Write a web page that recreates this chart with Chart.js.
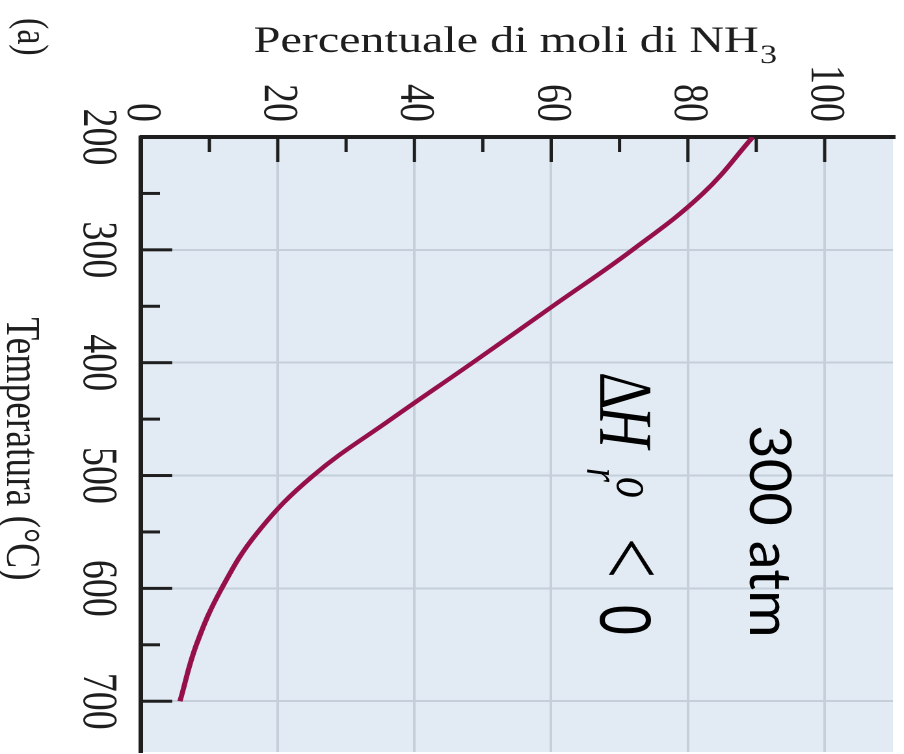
<!DOCTYPE html>
<html>
<head>
<meta charset="utf-8">
<script src="https://cdn.jsdelivr.net/npm/chart.js@4.4.1/dist/chart.umd.min.js"></script>
<style>
  html, body { margin: 0; padding: 0; background: #fff; overflow: hidden; }
  body { width: 904px; height: 754px; position: relative; }
  /* the figure is drawn upright, then turned a quarter clockwise and stretched like the scan */
  #wrap { position: absolute; left: 0; top: 0; width: 754px; height: 695px;
          transform-origin: 0 0; transform: translate(904px, 0) rotate(90deg) scaleY(1.3007); }
</style>
</head>
<body>
<div id="wrap"><canvas id="chart"></canvas></div>
<script>
// data
const temperature = [200, 250, 300, 350, 400, 450, 500, 550, 600, 650, 700];
const molePercent = [89.5, 82.2, 71.9, 60.2, 48.5, 36.6, 25.2, 17.1, 11.8, 8.1, 5.7];
const tempTicks = [200, 250, 300, 350, 400, 450, 500, 550, 600, 650, 700];
const percentTicks = [0, 10, 20, 30, 40, 50, 60, 70, 80, 90, 100];

const xTitle = 'Temperatura (°C)';
const yTitle = 'Percentuale di moli di NH';
const ySub = '3';
const pressureLabel = '300 atm';
const panelLabel = '(a)';

const STRETCH = 1.3007;
const ink = '#1e1e1e';
const serif = "'Liberation Serif', 'Times New Roman', serif";

const decor = {
  id: 'decor',
  beforeDraw(chart) {
    const {ctx, chartArea: a} = chart;
    ctx.save();
    ctx.fillStyle = '#e2ebf4';
    ctx.fillRect(a.left, a.top, a.right - a.left, a.bottom - a.top);
    ctx.restore();
  },
  afterDraw(chart) {
    const {ctx, chartArea: a, scales: {x, y}} = chart;
    ctx.save();
    ctx.strokeStyle = ink;

    // inward tick marks
    ctx.lineWidth = 3;
    tempTicks.forEach(t => {
      if (t === x.min) return;
      const px = x.getPixelForValue(t);
      const len = t % 100 === 0 ? 24 : 14.6;
      ctx.beginPath();
      ctx.moveTo(px, a.bottom);
      ctx.lineTo(px, a.bottom - len);
      ctx.stroke();
    });
    ctx.lineWidth = 2.5;
    percentTicks.forEach(p => {
      if (p === 0) return;
      const py = y.getPixelForValue(p);
      const len = p % 20 === 0 ? 25 : 15;
      ctx.beginPath();
      ctx.moveTo(a.left, py);
      ctx.lineTo(a.left + len, py);
      ctx.stroke();
    });

    // axis titles
    ctx.fillStyle = ink;
    ctx.textBaseline = 'alphabetic';
    ctx.textAlign = 'center';
    ctx.font = '37.5px ' + serif;
    ctx.fillText(xTitle, 449, chart.height - 5.4);

    ctx.save();
    ctx.translate(52, 298.8);
    ctx.rotate(-Math.PI / 2);
    ctx.textAlign = 'left';
    ctx.font = '37px ' + serif;
    const w1 = ctx.measureText(yTitle).width;
    ctx.font = '26px ' + serif;
    const w2 = ctx.measureText(ySub).width;
    const x0 = -(w1 + w2 + 1) / 2;
    ctx.font = '37px ' + serif;
    ctx.fillText(yTitle, x0, 0);
    ctx.font = '26px ' + serif;
    ctx.fillText(ySub, x0 + w1 + 1, 11);
    ctx.restore();

    // panel label
    ctx.textAlign = 'left';
    ctx.font = '34px ' + serif;
    ctx.fillText(panelLabel, 18, 681);

    // overlay: pressure (not stretched in the picture)
    ctx.save();
    ctx.translate(425, 118.4);
    ctx.scale(1, 1 / STRETCH);
    ctx.fillStyle = '#000';
    ctx.font = "58px Lato, 'Open Sans', sans-serif";
    ctx.fillText(pressureLabel, 0, 0);
    ctx.restore();

    // overlay: ΔH_r^o < 0
    ctx.fillStyle = '#000';
    const base = 233.7;
    ctx.font = '58px ' + serif;
    ctx.fillText('Δ', 372, base);
    ctx.font = 'italic 58px ' + serif;
    ctx.fillText('H', 406, base);
    ctx.font = 'italic 36px ' + serif;
    ctx.fillText('r', 468, 243.7);
    ctx.font = 'italic 42px ' + serif;
    ctx.fillText('o', 477, 220.6);
    ctx.textAlign = 'center';
    ctx.font = '72px ' + serif;
    ctx.fillText('<', 558, base);
    ctx.font = "56px 'Liberation Sans', sans-serif";
    ctx.fillText('0', 620, base);

    ctx.restore();
  }
};

new Chart(document.getElementById('chart'), {
  type: 'line',
  data: {
    datasets: [{
      data: temperature.map((t, i) => ({x: t, y: molePercent[i]})),
      borderColor: '#950f4b',
      borderWidth: 4,
      pointRadius: 0,
      tension: 0.4,
      fill: false
    }]
  },
  options: {
    responsive: true,
    maintainAspectRatio: false,
    animation: false,
    devicePixelRatio: 2,
    layout: { padding: { top: 8.46, right: 0, bottom: 0, left: 0 } },
    plugins: { legend: { display: false }, tooltip: { enabled: false } },
    scales: {
      x: {
        type: 'linear',
        min: 200,
        max: 745,
        afterBuildTicks: s => { s.ticks = tempTicks.map(v => ({value: v})); },
        afterFit: s => { s.height = 108.4; s.paddingLeft = 0; s.paddingRight = 0; },
        grid: {
          color: c => (c.tick && c.tick.value % 100 === 0 && c.tick.value > 200) ? '#c4cfd9' : 'rgba(0,0,0,0)',
          lineWidth: 2,
          drawTicks: false
        },
        border: { display: true, color: ink, width: 3.5 },
        ticks: {
          padding: 15,
          color: ink,
          maxRotation: 0,
          autoSkip: false,
          font: { family: serif, size: 38, lineHeight: 1 },
          callback: v => v % 100 === 0 ? String(v) : ''
        }
      },
      y: {
        min: 0,
        max: 110,
        afterBuildTicks: s => { s.ticks = percentTicks.map(v => ({value: v})); },
        afterFit: s => { s.width = 137; s.paddingTop = 0; s.paddingBottom = 0; },
        grid: {
          color: c => (c.tick && c.tick.value % 20 === 0 && c.tick.value > 0) ? '#c4cfd9' : 'rgba(0,0,0,0)',
          lineWidth: 2,
          drawTicks: false
        },
        border: { display: true, color: ink, width: 4 },
        ticks: {
          padding: 15,
          color: ink,
          autoSkip: false,
          font: { family: serif, size: 38, lineHeight: 1 },
          callback: v => v % 20 === 0 ? String(v) : ''
        }
      }
    }
  },
  plugins: [decor]
});
</script>
</body>
</html>
